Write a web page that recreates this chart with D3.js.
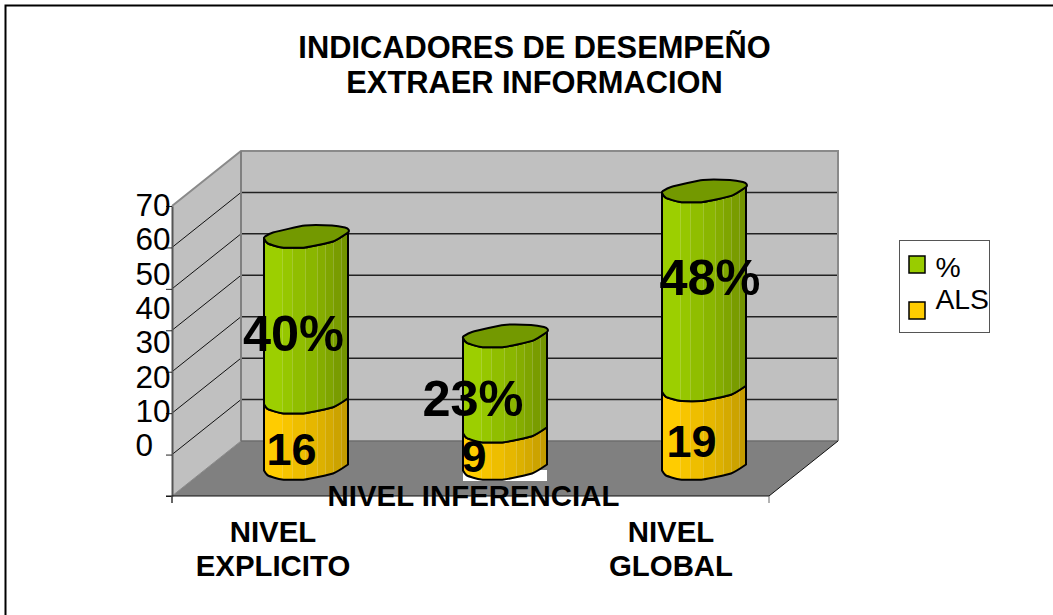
<!DOCTYPE html>
<html><head><meta charset="utf-8">
<script src="https://cdn.jsdelivr.net/npm/d3@7/dist/d3.min.js"></script>
<style>html,body{margin:0;padding:0;background:#fff}svg{display:block}text{font-family:"Liberation Sans",Arial,sans-serif;fill:#000}</style>
</head><body><svg id="c" width="1053" height="615"></svg>
<script>
const titleLines = ["INDICADORES DE DESEMPEÑO", "EXTRAER INFORMACION"];
const categories = ["NIVEL EXPLICITO", "NIVEL INFERENCIAL", "NIVEL GLOBAL"];
const alsValues = [16, 9, 19];
const pctValues = [40, 23, 48];
const pctLabels = ["40%", "23%", "48%"];
const tickValues = [0, 10, 20, 30, 40, 50, 60, 70];
const legendItems = ["%", "ALS"];

// layout
const front = {x0:172, x1:769, y0:496, y1:206};
const depth = {dx:69, dy:-55};
const barW = 84;
const barLift = 25.5;
const stripEdges = [0,18,28,41,53,61,69,77,84];
const frontArc = [[0,0],[4,5],[18,9],[41,9],[69,3],[84,-6]];
const backArc = [[84.5,-9],[81,-11],[68,-13],[41,-13],[9,-6],[1,-2]];
const green = d3.interpolateRgb("#9ccf00","#739400");
const gold = d3.interpolateRgb("#ffcc00","#c49c00");
const pctAnchors = [[293.5,351],[473,416],[710,295]];
const alsAnchors = [[291.5,465],[474,472],[691.5,457]];
const catLines = [[["NIVEL",273,542],["EXPLICITO",273,576]],[["NIVEL INFERENCIAL",473.5,506]],[["NIVEL",671,542],["GLOBAL",671,576]]];
const tickLabelY = [456,422,388,353,319,285,250,216];

const svg = d3.select("#c");
const y = d3.scaleLinear().domain([0,70]).range([front.y0, front.y1]);
const x = d3.scaleBand().domain(categories).range([front.x0, front.x1]);
const line = d3.line().curve(d3.curveCardinal.tension(0.45));
const lineClosed = d3.line().curve(d3.curveCardinalClosed.tension(0.45));

svg.append("path").attr("d","M5.5,615V5.5H1053").attr("fill","none").attr("stroke","#000").attr("stroke-width",2);

// walls
const bx0 = front.x0+depth.dx, bx1 = front.x1+depth.dx;
const byv = v => y(v)+depth.dy;
const poly = p => "M"+p.map(d=>d.join(",")).join("L")+"Z";
svg.append("path").attr("d",poly([[front.x0,y(0)],[front.x0,y(70)],[bx0,byv(70)],[bx0,byv(0)]])).attr("fill","#c0c0c0");
svg.append("path").attr("d",poly([[bx0,byv(0)],[bx0,byv(70)],[bx1,byv(70)],[bx1,byv(0)]])).attr("fill","#c0c0c0");
svg.append("path").attr("d",poly([[front.x0,y(0)],[bx0,byv(0)],[bx1,byv(0)],[front.x1,y(0)]])).attr("fill","#808080");
// gridlines
tickValues.slice(1,-1).forEach(v=>{
  svg.append("line").attr("x1",bx0).attr("x2",bx1).attr("y1",byv(v)).attr("y2",byv(v)).attr("stroke","#222").attr("stroke-width",1.5);
});
tickValues.slice(0,-1).forEach(v=>{
  if(v>0) svg.append("line").attr("x1",front.x0).attr("x2",bx0).attr("y1",y(v)).attr("y2",byv(v)).attr("stroke","#111").attr("stroke-width",1);
});
// wall edges
svg.append("path").attr("d",`M${front.x0},${y(70)}L${bx0},${byv(70)}H${bx1}V${byv(0)}`).attr("fill","none").attr("stroke","#8a8a8a").attr("stroke-width",2);
svg.append("line").attr("x1",bx0).attr("x2",bx0).attr("y1",byv(70)).attr("y2",byv(0)).attr("stroke","#808080").attr("stroke-width",2);
svg.append("line").attr("x1",bx0).attr("x2",bx1).attr("y1",byv(0)).attr("y2",byv(0)).attr("stroke","#6e6e6e").attr("stroke-width",1.5);
svg.append("line").attr("x1",front.x0).attr("x2",bx0).attr("y1",y(0)).attr("y2",byv(0)).attr("stroke","#8a8a8a").attr("stroke-width",1);
svg.append("line").attr("x1",front.x1).attr("x2",bx1).attr("y1",y(0)).attr("y2",byv(0)).attr("stroke","#111").attr("stroke-width",1);

// white patch behind the middle cylinder
const barLeft = c => x(c)+x.bandwidth()/2+depth.dx/2-barW/2;
svg.append("rect").attr("x",barLeft(categories[1])).attr("y",y(0)-26).attr("width",barW).attr("height",11).attr("fill","#fff");

// cylinders
const defs = svg.append("defs");
function segment(c,i,vLo,vHi,interp,name){
  const l = barLeft(c), yb = y(vLo)-barLift, yt = y(vHi)-barLift;
  const bot = frontArc.map(([a,b])=>[l+a,yb+b]);
  const top = frontArc.map(([a,b])=>[l+a,yt+b]);
  const rev = bot.slice().reverse();
  const dStr = line(top)+"L"+line(rev).slice(1)+"Z";
  const id = "clip"+name+i;
  defs.append("clipPath").attr("id",id).append("path").attr("d",dStr);
  const g = svg.append("g").attr("clip-path",`url(#${id})`);
  d3.pairs(stripEdges).forEach(([a,b],k)=>{
    g.append("rect").attr("x",l+a).attr("width",b-a+0.3).attr("y",yt-20).attr("height",yb-yt+50).attr("fill",interp(k/7));
    if(k>0) g.append("line").attr("x1",l+a+0.5).attr("x2",l+a+0.5).attr("y1",yt-20).attr("y2",yb+30).attr("stroke","#fff").attr("stroke-opacity",0.18);
  });
  svg.append("path").attr("d",dStr).attr("fill","none").attr("stroke","#000").attr("stroke-width",2).attr("stroke-linejoin","round");
}
categories.forEach((c,i)=>{
  segment(c,i,0,alsValues[i],gold,"a");
  segment(c,i,alsValues[i],alsValues[i]+pctValues[i],green,"p");
  const l = barLeft(c), yt = y(alsValues[i]+pctValues[i])-barLift;
  svg.append("path").attr("d",lineClosed(frontArc.concat(backArc).map(([a,b])=>[l+a,yt+b])))
    .attr("fill","#739900").attr("stroke","#000").attr("stroke-width",2);
});

// y axis
const yAxis = d3.axisLeft(y).tickValues(tickValues).tickFormat("").tickSize(6).tickSizeOuter(0);
const ax = svg.append("g").attr("transform",`translate(${front.x0},0)`).call(yAxis);
ax.select(".domain").attr("stroke","#555").attr("stroke-width",2);
ax.selectAll("line").attr("stroke","#222");
svg.append("line").attr("x1",front.x0).attr("x2",front.x0).attr("y1",y(0)).attr("y2",y(0)+7).attr("stroke","#666").attr("stroke-width",2);
tickValues.forEach((v,i)=>{
  svg.append("text").attr("x",v===0?153:170.5).attr("y",tickLabelY[i]).attr("text-anchor","end").attr("font-size",31.5).text(v);
});

// x axis
svg.append("line").attr("x1",front.x0-6).attr("x2",front.x1).attr("y1",y(0)).attr("y2",y(0)).attr("stroke","#111");
svg.append("line").attr("x1",front.x1).attr("x2",front.x1).attr("y1",y(0)).attr("y2",y(0)+7).attr("stroke","#666").attr("stroke-width",1);

// text
titleLines.forEach((t,i)=>svg.append("text").attr("x",534.5).attr("y",58+i*34.5).attr("text-anchor","middle").attr("font-weight","bold").attr("font-size",30.8).text(t));
catLines.forEach(ls=>ls.forEach(([t,a,b])=>svg.append("text").attr("x",a).attr("y",b).attr("text-anchor","middle").attr("font-weight","bold").attr("font-size",29.4).text(t)));
pctLabels.forEach((t,i)=>svg.append("text").attr("x",pctAnchors[i][0]).attr("y",pctAnchors[i][1]).attr("text-anchor","middle").attr("font-weight","bold").attr("font-size",50.5).text(t));
alsValues.forEach((t,i)=>svg.append("text").attr("x",alsAnchors[i][0]).attr("y",alsAnchors[i][1]).attr("text-anchor","middle").attr("font-weight","bold").attr("font-size",45).text(t));

// legend
svg.append("rect").attr("x",899.5).attr("y",240.5).attr("width",90).attr("height",92).attr("fill","#fff").attr("stroke","#555").attr("stroke-width",1);
[["#99cc00",256,277],["#ffcc00",302,309]].forEach(([col,sy,ty],i)=>{
  svg.append("rect").attr("x",909).attr("y",sy).attr("width",16).attr("height",17).attr("fill",col).attr("stroke","#000").attr("stroke-width",1.5);
  svg.append("text").attr("x",935.5).attr("y",ty).attr("font-size",28.3).text(legendItems[i]);
});
</script></body></html>
